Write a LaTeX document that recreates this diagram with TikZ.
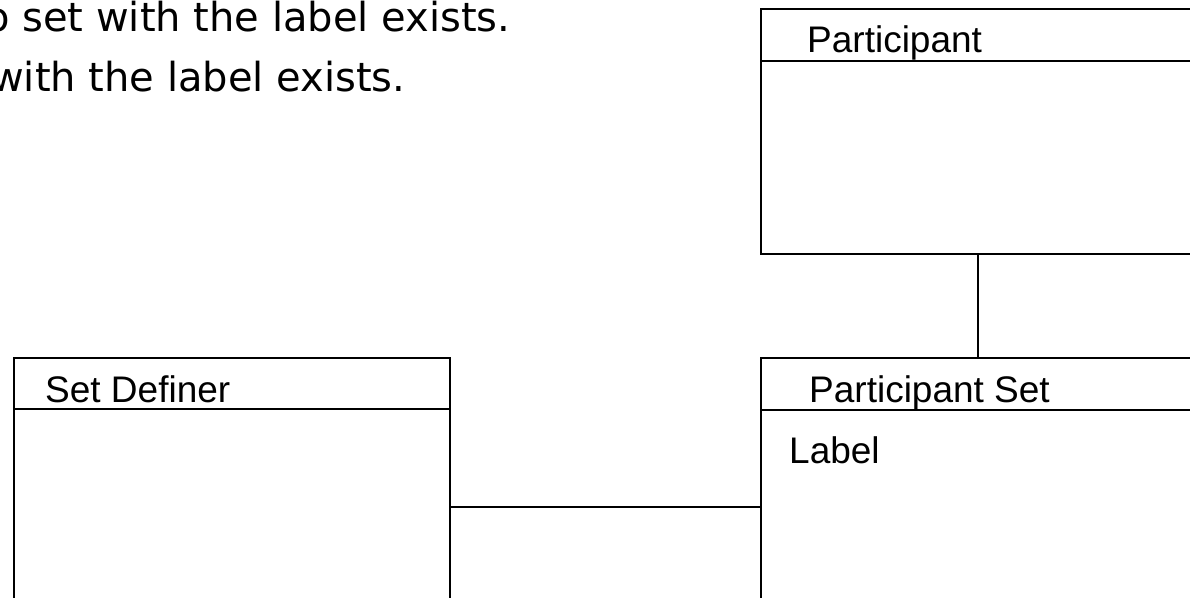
\documentclass[tikz,border=0pt]{standalone}
\usepackage{fontspec}
\setmainfont{Liberation Sans}
\newfontfamily\comicfont{DejaVu Sans}
\begin{document}
\begin{tikzpicture}[x=1bp,y=-1bp,
  umlbox/.style={draw=black,line width=1.8bp,rectangle,inner sep=0pt,anchor=north west},
  boxtitle/.style={inner sep=0pt,anchor=base west,font=\fontsize{37bp}{40bp}\selectfont},
  notetext/.style={inner sep=0pt,anchor=base west,font=\comicfont\fontsize{40bp}{48bp}\selectfont},
  conn/.style={draw=black,line width=1.8bp}]
\useasboundingbox (0,0) rectangle (1190,598);
\clip (0,0) rectangle (1190,598);
\fill[white] (0,0) rectangle (1190,598);
% note text
\node[notetext] (note1) at (-15,32) {o set with the label exists.};
\node[notetext] (note2) at (-9,92) {with the label exists.};
% boxes
\node[umlbox,minimum width=450bp,minimum height=245bp] (part) at (760,8) {};
\node[umlbox,minimum width=450bp,minimum height=260bp] (pset) at (760,357) {};
\node[umlbox,minimum width=436bp,minimum height=260bp] (def) at (13,357) {};
% dividers
\draw[conn] ([yshift=-53bp]part.north west) -- ([yshift=-53bp]part.north east);
\draw[conn] ([yshift=-53bp]pset.north west) -- ([yshift=-53bp]pset.north east);
\draw[conn] ([yshift=-52bp]def.north west) -- ([yshift=-52bp]def.north east);
% titles
\node[boxtitle] (tpart) at (807,53) {Participant};
\node[boxtitle] (tpset) at (809,402) {Participant Set};
\node[boxtitle] (tdef) at (45,402) {Set Definer};
\node[boxtitle] (tlabel) at (789,463) {Label};
% connectors
\coordinate (cx) at (978,0);
\coordinate (cy) at (0,507);
\draw[conn] (part.south -| cx) -- (pset.north -| cx);
\draw[conn] (def.east |- cy) -- (pset.west |- cy);
\end{tikzpicture}
\end{document}
